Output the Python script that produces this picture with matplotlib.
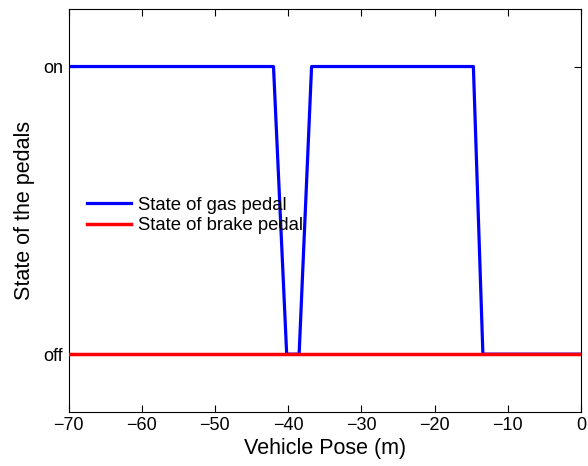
import matplotlib
matplotlib.use("Agg")
import matplotlib.pyplot as plt

# pose (m) vs pedal states
gas_x = [-70, -42.0, -40.2, -38.5, -36.8, -14.7, -13.4, 0]
gas_y = [1, 1, 0, 0, 1, 1, 0, 0]
brake_x = [-70, 0]
brake_y = [0, 0]

xticks = [-70, -60, -50, -40, -30, -20, -10, 0]
yticks = [0, 1]
ytick_labels = ["off", "on"]

plt.rcParams["font.family"] = ["Liberation Sans", "DejaVu Sans"]

fig = plt.figure(figsize=(5.88, 4.66), dpi=100)
ax = fig.add_axes([68.5 / 588, 1 - 411.7 / 466, 512.5 / 588, 402.7 / 466])

ax.plot(gas_x, gas_y, color="#0000ff", lw=2.3, label="State of gas pedal")
ax.plot(brake_x, brake_y, color="#ff0000", lw=2.5, label="State of brake pedal", zorder=3)

ax.set_xlim(-70, 0)
ax.set_ylim(-0.2, 1.2)
ax.set_xticks(xticks)
ax.set_yticks(yticks)
ax.set_yticklabels(ytick_labels)
ax.tick_params(direction="in", top=True, right=True, labelsize=13, length=5, pad=4)
ax.set_xlabel("Vehicle Pose (m)", fontsize=15.5, labelpad=3)
ax.set_ylabel("State of the pedals", fontsize=15.5, labelpad=6)

ax.legend(loc="upper left", bbox_to_anchor=(0.0, 0.58), frameon=False,
          fontsize=13.3, handlelength=2.4, handletextpad=0.35, labelspacing=0.2,
          borderaxespad=0.6)

fig.savefig("out.png", dpi=100)
